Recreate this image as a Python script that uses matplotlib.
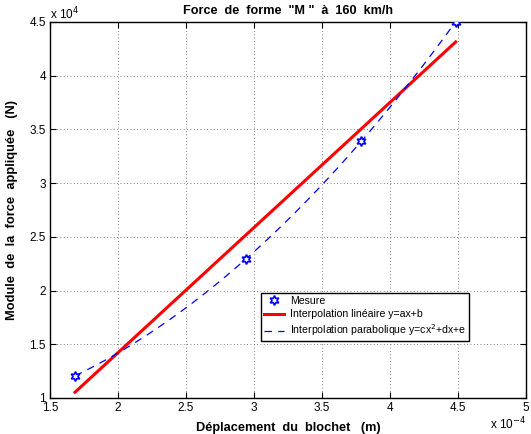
import numpy as np
import matplotlib
matplotlib.use("Agg")
import matplotlib.pyplot as plt

# Data (x in 1e-4 m, y in 1e4 N)
deplacement = [1.684, 2.941, 3.787, 4.483]
force = [1.207, 2.290, 3.393, 4.500]
x_ticks = [1.5, 2, 2.5, 3, 3.5, 4, 4.5, 5]
y_ticks = [1, 1.5, 2, 2.5, 3, 3.5, 4, 4.5]

plt.rcParams['font.family'] = ['Liberation Sans', 'DejaVu Sans']

fig = plt.figure(figsize=(5.31, 4.34), dpi=100)
ax = fig.add_axes([50/531, 36/434, 476/531, 376/434])

xs = np.linspace(min(deplacement), max(deplacement), 200)
lin = np.polyfit(deplacement, force, 1)
par = np.polyfit(deplacement, force, 2)

ax.plot(deplacement, force, linestyle='none', marker=(6, 1, 0), markersize=7,
        markerfacecolor='white', markeredgecolor='#0000ff', markeredgewidth=1.2,
        label='Mesure', zorder=4)
ax.plot(xs, np.polyval(lin, xs), color='#ff0000', lw=2.2,
        label='Interpolation linéaire y=ax+b', zorder=3)
ax.plot(xs, np.polyval(par, xs), color='#0000ff', lw=0.9, dashes=(6, 5),
        label='Interpolation parabolique y=cx$^2$+dx+e', zorder=3)

ax.set_xlim(1.5, 5)
ax.set_ylim(1, 4.5)
ax.set_xticks(x_ticks)
ax.set_yticks(y_ticks)
ax.set_xticklabels([f"{t:g}" for t in x_ticks])
ax.set_yticklabels([f"{t:g}" for t in y_ticks])
ax.tick_params(direction='in', top=True, right=True, length=4, width=0.8,
               labelsize=8.5, pad=3)
ax.grid(True, linestyle=(0, (1, 3)), color='#555555', linewidth=0.6)
for s in ax.spines.values():
    s.set_linewidth(1.0)

ax.set_title('Force  de  forme  "M "  à  160  km/h', fontsize=9.1,
             fontweight='bold', pad=6)
ax.set_xlabel('Déplacement  du  blochet   (m)', fontsize=9.2,
              fontweight='bold', labelpad=6)
ax.set_ylabel('Module  de  la  force  appliquée   (N)', fontsize=9.3,
              fontweight='bold', labelpad=8)

fig.text(50/531, 1 - 14/434, 'x 10$^{4}$', fontsize=8.5, ha='left', va='center')
fig.text(526/531, 1 - 424/434, 'x 10$^{-4}$', fontsize=8.5, ha='right', va='center')

leg = ax.legend(loc='upper left', bbox_to_anchor=((261-50)/476, (398-293)/376),
                fontsize=7.6, frameon=True, fancybox=False, edgecolor='black',
                framealpha=1, borderpad=0.3, labelspacing=0.3, handlelength=1.9,
                handletextpad=0.55, borderaxespad=0)
leg.get_frame().set_linewidth(1.0)

fig.savefig('out.png', dpi=100)
